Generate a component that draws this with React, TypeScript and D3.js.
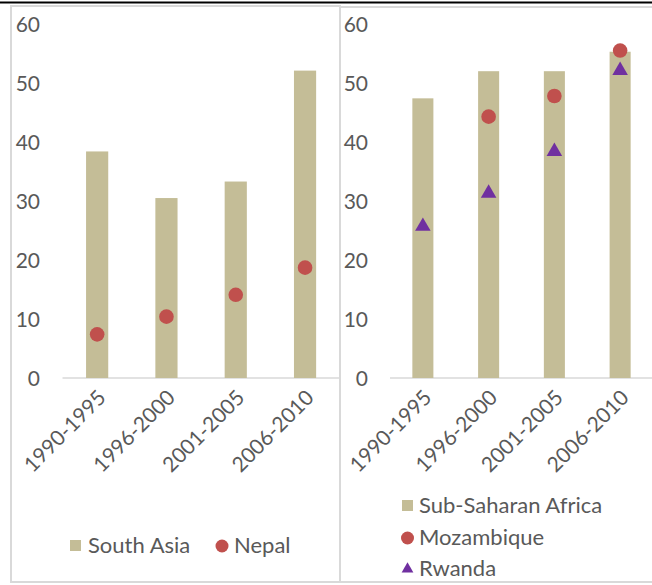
import React from 'react';
import * as d3 from 'd3';

const periods = ['1990-1995', '1996-2000', '2001-2005', '2006-2010'];
const yTicks = [0, 10, 20, 30, 40, 50, 60];

const southAsia = [38.4, 30.5, 33.3, 52.1];
const nepal = [7.4, 10.4, 14.1, 18.7];

const subSaharan = [47.4, 52.0, 52.0, 55.3];
const mozambique: (number | null)[] = [null, 44.3, 47.8, 55.5];
const rwanda = [25.7, 31.3, 38.4, 52.1];

const BAR = '#C4BD97';
const RED = '#C0504D';
const PURPLE = '#7030A0';
const GRID = '#D9D9D9';
const TEXT = '#595959';
const FONT = 'Lato, "Open Sans", sans-serif';

const y = d3.scaleLinear().domain([0, 60]).range([378, 24]);

interface PanelProps {
  x0: number;
  x1: number;
  labelRight: number;
  bars: number[];
  dots: (number | null)[];
  tris?: number[];
}

const Panel: React.FC<PanelProps> = ({ x0, x1, labelRight, bars, dots, tris }) => {
  const x = d3.scaleBand().domain(periods).range([x0, x1]).paddingInner(0.68).paddingOuter(0.34);
  const tri = d3.symbol().type(d3.symbolTriangle).size(105)();
  return (
    <g>
      {yTicks.map(t => (
        <text key={t} x={labelRight} y={y(t)} dy="0.36em" textAnchor="end" fontSize={21} fill={TEXT} fontFamily={FONT}>
          {t}
        </text>
      ))}
      <line x1={x0} x2={x1} y1={y(0)} y2={y(0)} stroke={GRID} strokeWidth={1.5} />
      {bars.map((v, i) => (
        <rect key={i} x={x(periods[i])} y={y(v)} width={x.bandwidth()} height={y(0) - y(v)} fill={BAR} />
      ))}
      {dots.map((v, i) =>
        v == null ? null : (
          <circle key={i} cx={x(periods[i])! + x.bandwidth() / 2} cy={y(v)} r={7.3} fill={RED} />
        )
      )}
      {tris &&
        tris.map((v, i) => (
          <path key={i} d={tri!} transform={`translate(${x(periods[i])! + x.bandwidth() / 2},${y(v)})`} fill={PURPLE} />
        ))}
      {periods.map(p => (
        <text
          key={p}
          transform={`translate(${x(p)! + x.bandwidth() / 2 + 10},${y(0) + 21}) rotate(-45)`}
          textAnchor="end"
          fontSize={21}
          fill={TEXT}
          fontFamily={FONT}
        >
          {p}
        </text>
      ))}
    </g>
  );
};

const App: React.FC = () => {
  const legendTri = d3.symbol().type(d3.symbolTriangle).size(60)();
  return (
    <svg width={652} height={585} style={{ position: 'absolute', left: 0, top: 0, background: '#fff' }}>
      <rect x={11} y={6} width={329} height={576} fill="none" stroke={GRID} strokeWidth={2} />
      <rect x={340} y={7} width={320} height={575} fill="none" stroke={GRID} strokeWidth={2} />
      <line x1={0} x2={652} y1={2.5} y2={2.5} stroke="#000" strokeWidth={2} />

      <Panel x0={62.5} x1={339.7} labelRight={40} bars={southAsia} dots={nepal} />
      <Panel x0={390} x1={653} labelRight={368} bars={subSaharan} dots={mozambique} tris={rwanda} />

      {/* left legend */}
      <rect x={70} y={540} width={11} height={11} fill={BAR} />
      <text x={88} y={553} fontSize={22} fill={TEXT} fontFamily={FONT}>South Asia</text>
      <circle cx={222} cy={546} r={6.5} fill={RED} />
      <text x={234} y={553} fontSize={22} fill={TEXT} fontFamily={FONT}>Nepal</text>

      {/* right legend */}
      <rect x={402} y={500} width={11} height={11} fill={BAR} />
      <text x={419} y={513} fontSize={22} fill={TEXT} fontFamily={FONT}>Sub-Saharan Africa</text>
      <circle cx={407.5} cy={538} r={6.5} fill={RED} />
      <text x={419} y={545} fontSize={22} fill={TEXT} fontFamily={FONT}>Mozambique</text>
      <path d={legendTri!} transform="translate(407.5,569)" fill={PURPLE} />
      <text x={419} y={576} fontSize={22} fill={TEXT} fontFamily={FONT}>Rwanda</text>
    </svg>
  );
};

export default App;
